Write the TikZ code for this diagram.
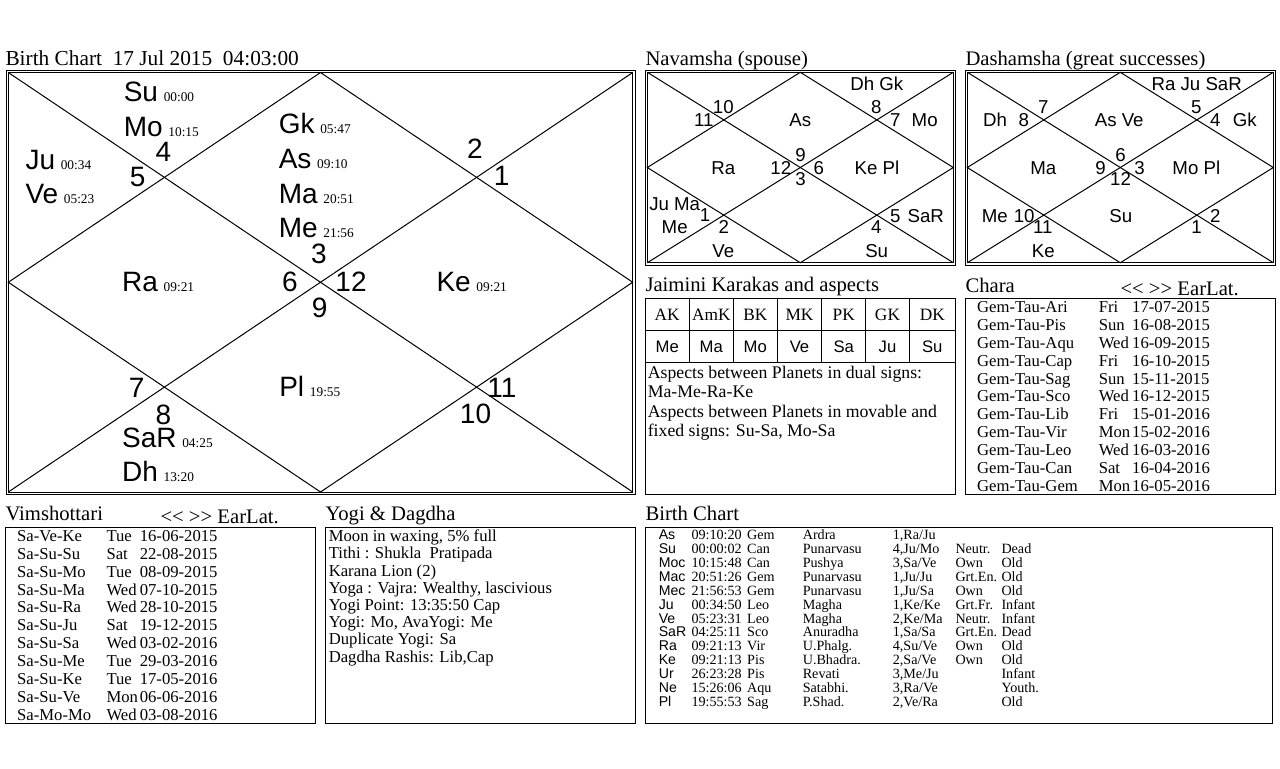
\documentclass[tikz,border=0pt]{standalone}
\usepackage{fontspec}
\setmainfont{Liberation Serif}
\newfontfamily\arial{Liberation Sans}
\newcommand\tmstamp[1]{\hspace{4.3pt}{\rmfamily\fontsize{10}{12}\selectfont #1}}
\newcommand\navarrows{\mbox{<}\kern0pt\mbox{<} \mbox{>}\kern0pt\mbox{>} EarLat.}
\newcommand\kundali[4]{%
  \draw (#1,#2) -- (#3,#4);
  \draw (#1,#4) -- (#3,#2);
  \draw ({(#1+#3)/2},#2) -- (#3,{(#2+#4)/2}) -- ({(#1+#3)/2},#4) -- (#1,{(#2+#4)/2}) -- cycle;}
\newcommand\brow[8]{%
  \node[ba] (b#1a) at (658.3,{539.3+13.95*#1}) {#2};
  \node[bt] (b#1b) at (691,{539.3+13.95*#1}) {#3};
  \node[bt] (b#1c) at (746.7,{539.3+13.95*#1}) {#4};
  \node[bt] (b#1d) at (802.3,{539.3+13.95*#1}) {#5};
  \node[bt] (b#1e) at (892.3,{539.3+13.95*#1}) {#6};
  \node[bt] (b#1f) at (955,{539.3+13.95*#1}) {#7};
  \node[bt] (b#1g) at (1001,{539.3+13.95*#1}) {#8};}
\newcommand\vrow[4]{%
  \node[row] (v#1a) at (16.7,{541.5+17.85*#1}) {#2};
  \node[row] (v#1b) at (106,{541.5+17.85*#1}) {#3};
  \node[row] (v#1c) at (139.3,{541.5+17.85*#1}) {#4};}
\newcommand\crow[4]{%
  \node[row] (c#1a) at (976.7,{312.7+17.83*#1}) {#2};
  \node[row] (c#1b) at (1098.3,{312.7+17.83*#1}) {#3};
  \node[row] (c#1c) at (1131.7,{312.7+17.83*#1}) {#4};}
\newcommand\yrow[2]{%
  \node[yg] (y#1) at (328.3,{541.7+17.2*#1}) {#2};}
\begin{document}
\begin{tikzpicture}[x=0.75pt,y=-0.75pt,line width=0.75pt,
  every node/.style={inner sep=0pt},
  hd/.style={anchor=base west,font=\fontsize{15.5}{18}\selectfont},
  pl/.style={anchor=base west,font=\arial\fontsize{21}{24}\selectfont},
  num/.style={anchor=center,text depth=0pt,font=\arial\fontsize{21}{24}\selectfont},
  dc/.style={anchor=center,text depth=0pt,font=\arial\fontsize{14}{16}\selectfont},
  row/.style={anchor=base west,font=\fontsize{12.5}{14}\selectfont},
  yg/.style={anchor=base west,font=\fontsize{12.5}{15}\selectfont},
  jm/.style={anchor=base west,font=\fontsize{13.3}{16}\selectfont},
  jh/.style={anchor=base,font=\fontsize{13}{16}\selectfont},
  jp/.style={anchor=base,font=\arial\fontsize{12.5}{15}\selectfont},
  bt/.style={anchor=base west,font=\fontsize{10.6}{12}\selectfont},
  ba/.style={anchor=base west,font=\arial\fontsize{10.6}{12}\selectfont}]
\useasboundingbox (0,0) rectangle (1280,768);

% ---------- headings ----------
\node[hd,font=\fontsize{16}{18}\selectfont] (h1) at (5,65) {Birth Chart\ \ 17 Jul 2015\ \ 04:03:00};
\node[hd] (h2) at (645,65) {Navamsha (spouse)};
\node[hd] (h3) at (965,65) {Dashamsha (great successes)};
\node[hd] (h4) at (645,291.7) {Jaimini Karakas and aspects};
\node[hd] (h5) at (965,292.7) {Chara};
\node[hd] (h5b) at (1120,295) {\navarrows};
\node[hd] (h6) at (5,520.7) {Vimshottari};
\node[hd] (h6b) at (160,523.5) {\navarrows};
\node[hd] (h7) at (325,520.7) {Yogi \& Dagdha};
\node[hd] (h8) at (645,520.7) {Birth Chart};

% ---------- main chart ----------
\draw (6,70) rectangle (635,494.5);
\draw (8.3,72.5) rectangle (632.7,492);
\kundali{8.3}{72.5}{632.7}{492}

\node[num] (m3) at (319,254) {3};
\node[num] (m6) at (289.8,281.7) {6};
\node[num] (m12) at (351,281.7) {12};
\node[num] (m9) at (319.6,307.8) {9};
\node[num] (m4) at (163.3,151.7) {4};
\node[num] (m5) at (137.7,177.2) {5};
\node[num] (m2) at (475,149.2) {2};
\node[num] (m1) at (501.7,176.3) {1};
\node[num] (m7) at (136.7,388) {7};
\node[num] (m8) at (163.3,414.3) {8};
\node[num] (m11) at (502,388) {11};
\node[num] (m10) at (475.5,413.8) {10};

\node[pl] (pSu) at (123.3,101.7) {Su\tmstamp{00:00}};
\node[pl] (pMo) at (123.3,136.7) {Mo\tmstamp{10:15}};
\node[pl] (pJu) at (25,169) {Ju\tmstamp{00:34}};
\node[pl] (pVe) at (25,203.3) {Ve\tmstamp{05:23}};
\node[pl] (pGk) at (278.3,133.3) {Gk\tmstamp{05:47}};
\node[pl] (pAs) at (278.3,168.3) {As\tmstamp{09:10}};
\node[pl] (pMa) at (278.3,203.3) {Ma\tmstamp{20:51}};
\node[pl] (pMe) at (278.3,237.7) {Me\tmstamp{21:56}};
\node[pl] (pRa) at (121.7,291.7) {Ra\tmstamp{09:21}};
\node[pl] (pKe) at (436,291.7) {Ke\tmstamp{09:21}};
\node[pl] (pPl) at (278.8,396.7) {Pl\tmstamp{19:55}};
\node[pl] (pSa) at (121.6,447.2) {SaR\tmstamp{04:25}};
\node[pl] (pDh) at (121.6,481.7) {Dh\tmstamp{13:20}};

% ---------- navamsha ----------
\draw (645,70) rectangle (955.7,265);
\draw (647.3,72.3) rectangle (953.3,262.7);
\kundali{647.3}{72.3}{953.3}{262.7}
\foreach \x/\y/\t [count=\i] in {876.8/84.2/Dh Gk, 723.3/107.2/10, 703.8/120/11, 800.3/120/As,
  876.2/107.2/8, 895.3/120/7, 924.7/120/Mo, 800.5/155.3/9, 780.8/168/12, 818.7/168/6,
  800.5/179/3, 723.3/168/Ra, 877/168/Ke Pl, 674.7/204.2/Ju Ma, 705/215.3/1, 674.7/227.2/Me,
  723.7/227.2/2, 723.3/251.3/Ve, 876.2/227.2/4, 895.3/215.8/5, 925.8/215.8/SaR, 876.7/251.3/Su}
  \node[dc] (nv\i) at (\x,\y) {\t};

% ---------- dashamsha ----------
\draw (965,70) rectangle (1275.7,265);
\draw (967.3,72.3) rectangle (1273.3,262.7);
\kundali{967.3}{72.3}{1273.3}{262.7}
\foreach \x/\y/\t [count=\i] in {1196.7/84.2/Ra Ju SaR, 1043.3/107.2/7, 995/120/Dh, 1023.8/120/8,
  1119.2/120/As Ve, 1196.2/107.2/5, 1215.3/120/4, 1244.7/120/Gk, 1120.5/155.3/6, 1100.5/168/9,
  1139.5/168/3, 1120.5/179/12, 1043.3/168/Ma, 1196.3/168/Mo Pl, 994.7/215.8/Me, 1024.2/215.8/10,
  1042.8/227.2/11, 1120.8/215.8/Su, 1215.3/215.8/2, 1196.5/227.2/1, 1043.3/251.3/Ke}
  \node[dc] (ds\i) at (\x,\y) {\t};

% ---------- jaimini ----------
\draw (645,298.3) rectangle (955.3,494);
\draw (645,330) -- (955.3,330);
\draw (645,362.3) -- (955.3,362.3);
\foreach \x in {689.3,733.3,777.3,821.7,865.7,909.3}
  \draw (\x,298.3) -- (\x,362.3);
\foreach \x/\a/\b [count=\i] in {667.2/AK/Me, 711.3/AmK/Ma, 755.3/BK/Mo, 799.5/MK/Ve,
  843.7/PK/Sa, 887.5/GK/Ju, 932.3/DK/Su}{
  \node[jh] (jk\i) at (\x,320) {\a};
  \node[jp] (jv\i) at (\x,352.7) {\b};}
\node[jm] (ja1) at (647.3,378.3) {Aspects between Planets in dual signs:};
\node[jm] (ja2) at (647.3,397.8) {Ma-Me-Ra-Ke};
\node[jm] (ja3) at (647.3,417.3) {Aspects between Planets in movable and};
\node[jm] (ja4) at (647.3,436.7) {fixed signs: Su-Sa, Mo-Sa};

% ---------- chara ----------
\draw (965,298.3) rectangle (1275.7,494);
\crow{0}{Gem-Tau-Ari}{Fri}{17-07-2015}
\crow{1}{Gem-Tau-Pis}{Sun}{16-08-2015}
\crow{2}{Gem-Tau-Aqu}{Wed}{16-09-2015}
\crow{3}{Gem-Tau-Cap}{Fri}{16-10-2015}
\crow{4}{Gem-Tau-Sag}{Sun}{15-11-2015}
\crow{5}{Gem-Tau-Sco}{Wed}{16-12-2015}
\crow{6}{Gem-Tau-Lib}{Fri}{15-01-2016}
\crow{7}{Gem-Tau-Vir}{Mon}{15-02-2016}
\crow{8}{Gem-Tau-Leo}{Wed}{16-03-2016}
\crow{9}{Gem-Tau-Can}{Sat}{16-04-2016}
\crow{10}{Gem-Tau-Gem}{Mon}{16-05-2016}

% ---------- vimshottari ----------
\draw (5,527.3) rectangle (315.7,723.3);
\vrow{0}{Sa-Ve-Ke}{Tue}{16-06-2015}
\vrow{1}{Sa-Su-Su}{Sat}{22-08-2015}
\vrow{2}{Sa-Su-Mo}{Tue}{08-09-2015}
\vrow{3}{Sa-Su-Ma}{Wed}{07-10-2015}
\vrow{4}{Sa-Su-Ra}{Wed}{28-10-2015}
\vrow{5}{Sa-Su-Ju}{Sat}{19-12-2015}
\vrow{6}{Sa-Su-Sa}{Wed}{03-02-2016}
\vrow{7}{Sa-Su-Me}{Tue}{29-03-2016}
\vrow{8}{Sa-Su-Ke}{Tue}{17-05-2016}
\vrow{9}{Sa-Su-Ve}{Mon}{06-06-2016}
\vrow{10}{Sa-Mo-Mo}{Wed}{03-08-2016}

% ---------- yogi ----------
\draw (325,527.3) rectangle (635.7,723.3);
\yrow{0}{Moon in waxing, 5\% full}
\yrow{1}{Tithi : Shukla\ \ Pratipada}
\yrow{2}{Karana Lion (2)}
\yrow{3}{Yoga : Vajra: Wealthy, lascivious}
\yrow{4}{Yogi Point: 13:35:50 Cap}
\yrow{5}{Yogi: Mo, AvaYogi: Me}
\yrow{6}{Duplicate Yogi: Sa}
\yrow{7}{Dagdha Rashis: Lib,Cap}

% ---------- birth chart table ----------
\draw (645,527.3) rectangle (1272.3,723.3);
\brow{0}{As}{09:10:20}{Gem}{Ardra}{1,Ra/Ju}{}{}
\brow{1}{Su}{00:00:02}{Can}{Punarvasu}{4,Ju/Mo}{Neutr.}{Dead}
\brow{2}{Moc}{10:15:48}{Can}{Pushya}{3,Sa/Ve}{Own}{Old}
\brow{3}{Mac}{20:51:26}{Gem}{Punarvasu}{1,Ju/Ju}{Grt.En.}{Old}
\brow{4}{Mec}{21:56:53}{Gem}{Punarvasu}{1,Ju/Sa}{Own}{Old}
\brow{5}{Ju}{00:34:50}{Leo}{Magha}{1,Ke/Ke}{Grt.Fr.}{Infant}
\brow{6}{Ve}{05:23:31}{Leo}{Magha}{2,Ke/Ma}{Neutr.}{Infant}
\brow{7}{SaR}{04:25:11}{Sco}{Anuradha}{1,Sa/Sa}{Grt.En.}{Dead}
\brow{8}{Ra}{09:21:13}{Vir}{U.Phalg.}{4,Su/Ve}{Own}{Old}
\brow{9}{Ke}{09:21:13}{Pis}{U.Bhadra.}{2,Sa/Ve}{Own}{Old}
\brow{10}{Ur}{26:23:28}{Pis}{Revati}{3,Me/Ju}{}{Infant}
\brow{11}{Ne}{15:26:06}{Aqu}{Satabhi.}{3,Ra/Ve}{}{Youth.}
\brow{12}{Pl}{19:55:53}{Sag}{P.Shad.}{2,Ve/Ra}{}{Old}
\end{tikzpicture}
\end{document}
